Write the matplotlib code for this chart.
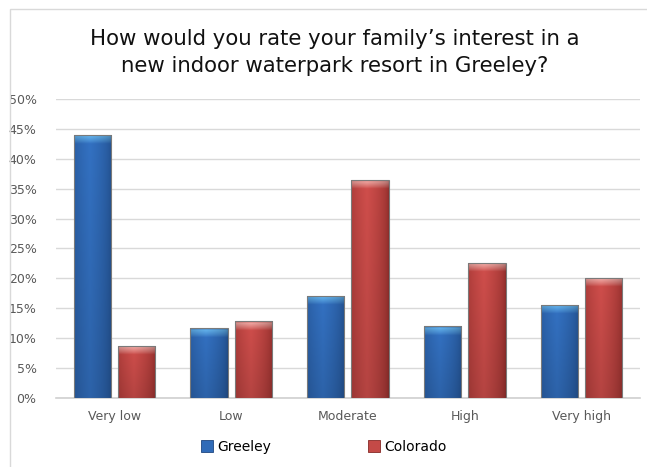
import numpy as np
import matplotlib
matplotlib.use("Agg")
import matplotlib.pyplot as plt
from matplotlib.patches import Rectangle, Patch
from matplotlib.ticker import PercentFormatter, MultipleLocator

# Survey responses (share of respondents)
categories = ["Very low", "Low", "Moderate", "High", "Very high"]
greeley = [44.0, 11.7, 17.1, 12.0, 15.6]
colorado = [8.7, 12.8, 36.5, 22.6, 20.1]
series_names = ["Greeley", "Colorado"]

title = "How would you rate your family\u2019s interest in a\nnew indoor waterpark resort in Greeley?"

# Base / edge / highlight colours for the glossy bars
palette = {
    "Greeley": dict(mid=(0.19, 0.42, 0.72), edge=(0.12, 0.28, 0.50), top=(0.42, 0.74, 0.95)),
    "Colorado": dict(mid=(0.77, 0.29, 0.28), edge=(0.52, 0.16, 0.15), top=(0.96, 0.72, 0.70)),
}

fig = plt.figure(figsize=(6.47, 4.67), dpi=100)
ax = fig.add_axes([0.0866, 0.1478, 0.9024, 0.6402])

x = np.arange(len(categories))
width = 0.32
offset = 0.19

ax.set_xlim(-0.5, len(categories) - 0.5)
ax.set_ylim(0, 50)


def glossy_fill(ax, bar, colors):
    """Paint a shaded, bevelled fill clipped to a bar patch."""
    x0, y0 = bar.get_x(), bar.get_y()
    w, h = bar.get_width(), bar.get_height()
    nx, ny = 60, 300
    u = np.linspace(0, 1, nx)
    # horizontal shading: dark rims, brighter centre-left
    prof = np.clip(1 - np.abs(u - 0.42) / 0.58, 0, 1) ** 0.5
    mid = np.array(colors["mid"])
    edge = np.array(colors["edge"])
    top = np.array(colors["top"])
    row = edge[None, :] + (mid - edge)[None, :] * prof[:, None]
    img = np.repeat(row[None, :, :], ny, axis=0)
    px_per_unit = ax.transData.transform((0, 1))[1] - ax.transData.transform((0, 0))[1]
    hpx = h * px_per_unit
    ypix = np.linspace(hpx, 0, ny)  # distance from bottom, top row first
    from_top = hpx - ypix
    # gentle vertical fade: brighter near the top, deeper near the base
    frac = ypix / max(hpx, 1)
    shade = 0.92 + 0.14 * frac
    img = img * shade[:, None, None]
    # top bevel highlight (fixed pixel height)
    bevel_px = 9.0
    t = np.clip(1 - from_top / bevel_px, 0, 1) ** 0.8
    t = np.where(from_top < 1.5, 0.45, t)
    glow = top[None, None, :] * (0.7 + 0.3 * prof[None, :, None])
    img = img * (1 - t[:, None, None]) + glow * t[:, None, None]
    im = ax.imshow(np.clip(img, 0, 1), extent=(x0, x0 + w, y0, y0 + h),
                   aspect="auto", origin="upper", zorder=3, interpolation="bilinear")
    im.set_clip_path(bar)


for vals, sign, name in [(greeley, -1, "Greeley"), (colorado, 1, "Colorado")]:
    bars = ax.bar(x + sign * offset, vals, width=width, color=palette[name]["mid"],
                  edgecolor="none", linewidth=0, zorder=3, label=name)
    for b in bars:
        glossy_fill(ax, b, palette[name])
        ax.add_patch(Rectangle((b.get_x(), b.get_y()), b.get_width(), b.get_height(),
                               fill=False, edgecolor="#7a7a7a", linewidth=0.8, zorder=4))

ax.set_xlim(-0.5, len(categories) - 0.5)
ax.set_ylim(0, 50)
ax.yaxis.set_major_locator(MultipleLocator(5))
ax.yaxis.set_major_formatter(PercentFormatter(decimals=0))
ax.set_xticks(x)
ax.set_xticklabels(categories)

ax.grid(axis="y", color="#d9d9d9", linewidth=1.0, zorder=0)
ax.set_axisbelow(True)
for side in ["top", "right", "left"]:
    ax.spines[side].set_visible(False)
ax.spines["bottom"].set_color("#d0d0d0")
ax.spines["bottom"].set_linewidth(1.2)
ax.tick_params(axis="both", length=0, labelsize=9, labelcolor="#595959")
ax.tick_params(axis="y", pad=14)
ax.tick_params(axis="x", pad=9)

fig.text(0.518, 0.887, title, ha="center", va="center", fontsize=15.3,
         color="#111111", linespacing=1.45)

handles = [Patch(facecolor=palette[n]["mid"], edgecolor=palette[n]["edge"], linewidth=0.6)
           for n in series_names]
fig.legend(handles, series_names, loc="center", bbox_to_anchor=(0.5, 0.043), ncol=2,
           frameon=False, fontsize=10, handlelength=0.9, handleheight=0.9,
           handletextpad=0.25, columnspacing=7.0)

# outer chart frame
fig.add_artist(Rectangle((0.015, -0.01), 0.99, 0.991, transform=fig.transFigure,
                         fill=False, edgecolor="#d9d9d9", linewidth=1.0))

fig.savefig("out.png", dpi=100, facecolor="white")
